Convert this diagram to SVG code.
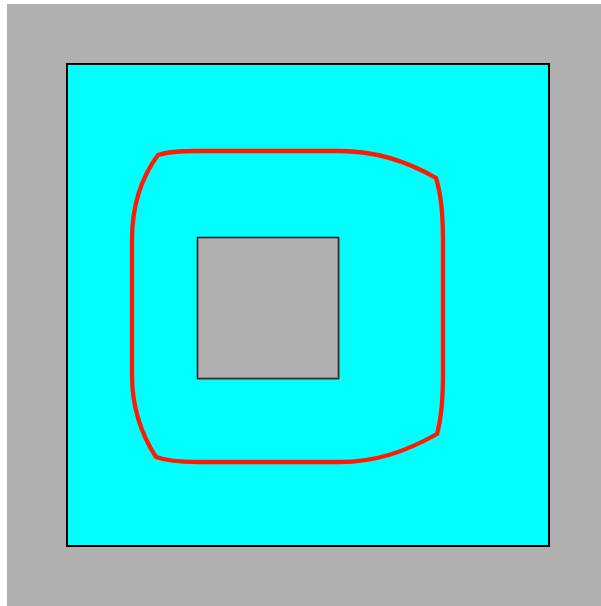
<svg xmlns="http://www.w3.org/2000/svg" width="601" height="606" viewBox="0 0 601 606">
<style>
.bg{fill:#b0b0b0}
.outer{fill:#00ffff;stroke:#000;stroke-width:2}
.hole{fill:#b0b0b0;stroke:#222;stroke-width:1.6}
.curve{fill:none;stroke:#ff1a00;stroke-width:4.3;stroke-linejoin:miter}
</style>
<rect width="601" height="606" fill="#fff"/>
<rect class="bg" x="7" y="4" width="594" height="602"/>
<g id="outer-square"><rect class="outer" x="67" y="64" width="482" height="482"/></g>
<g id="inner-square">
<rect class="hole" x="197.5" y="237.5" width="141" height="141"/>
<path d="M339 238 V379 H198" fill="none" stroke="#8b3a10" stroke-width="1" opacity="0.7"/>
</g>
<g id="red-contour">
<path class="curve" d="M158 155 Q170 151 197 151 L340 151 C375 151 405 160 436 178 Q443 200 443 240 L443 375 Q443 412 437 434 C405 452 375 462 340 462 L197 462 Q170 462 156 457 Q132 420 132 375 L132 240 Q132 190 158 155 Z"/>
</g>
</svg>
